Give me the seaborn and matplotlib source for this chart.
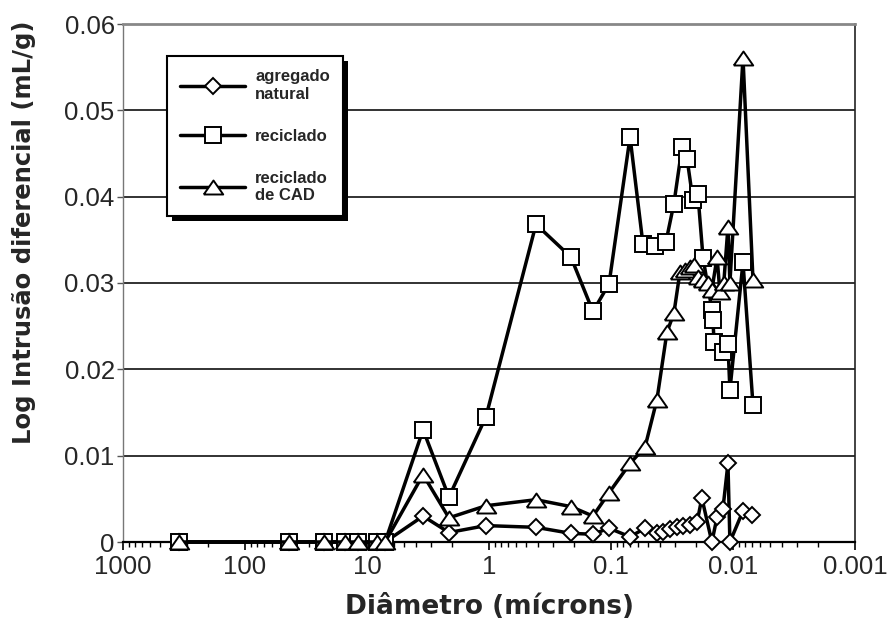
import matplotlib
matplotlib.use("Agg")
import matplotlib.pyplot as plt
from matplotlib.ticker import FixedLocator, FixedFormatter, LogLocator, NullFormatter
from matplotlib.patches import Rectangle
from matplotlib.transforms import IdentityTransform
import seaborn as sns

# Pore diameter (microns) and log differential intrusion (mL/g) for each aggregate
natural_diam = [347.6, 43.5, 22.5, 15.1, 11.9, 8.28, 7.11,
                3.47, 2.13, 1.06, 0.412, 0.213, 0.1406, 0.1038, 0.0698, 0.0526,
                0.0420, 0.0375, 0.0328, 0.0288, 0.0257, 0.0225, 0.0197, 0.0180,
                0.0149, 0.0135, 0.0121, 0.0110, 0.0106, 0.00828, 0.00699]
natural_val = [0.0, 0.0, 0.0, 0.0, 0.0, 0.0, 0.0,
               0.0030, 0.0011, 0.0019, 0.0017, 0.0010, 0.0009, 0.0016, 0.0006, 0.0016,
               0.0010, 0.0012, 0.0015, 0.0017, 0.0019, 0.0020, 0.0023, 0.0051,
               0.0000, 0.0029, 0.0038, 0.0091, 0.0000, 0.0036, 0.0031]

recycled_diam = [347.6, 43.5, 22.5, 15.1, 11.9, 8.28, 7.11,
                 3.47, 2.13, 1.06, 0.412, 0.213, 0.1406, 0.1038, 0.0698, 0.0547,
                 0.0436, 0.0354, 0.0305, 0.0262, 0.0238, 0.0213, 0.0194, 0.0176,
                 0.0149, 0.0146, 0.0143, 0.0121, 0.0110, 0.0106, 0.00828, 0.00686]
recycled_val = [0.0, 0.0, 0.0, 0.0, 0.0, 0.0, 0.0,
                0.0130, 0.0052, 0.0145, 0.0368, 0.0330, 0.0267, 0.0299, 0.0469, 0.0345,
                0.0343, 0.0348, 0.0392, 0.0457, 0.0444, 0.0396, 0.0403, 0.0329,
                0.0269, 0.0257, 0.0232, 0.0220, 0.0229, 0.0176, 0.0324, 0.0159]

cad_diam = [347.6, 43.5, 22.5, 15.1, 11.9, 8.28, 7.11,
            3.47, 2.13, 1.06, 0.412, 0.213, 0.1406, 0.1038, 0.0698, 0.0526,
            0.0420, 0.0348, 0.0305, 0.0272, 0.0247, 0.0225, 0.0209, 0.0194,
            0.0176, 0.0160, 0.0149, 0.0135, 0.0128, 0.0119, 0.0110, 0.0106,
            0.00828, 0.00686]
cad_val = [0.0, 0.0, 0.0, 0.0, 0.0, 0.0, 0.0,
           0.0078, 0.0028, 0.0042, 0.0049, 0.0041, 0.0030, 0.0057, 0.0091, 0.0110,
           0.0165, 0.0243, 0.0265, 0.0313, 0.0315, 0.0318, 0.0321, 0.0307,
           0.0304, 0.0300, 0.0292, 0.0330, 0.0289, 0.0300, 0.0365, 0.0300,
           0.0561, 0.0304]

series_labels = ["agregado\nnatural", "reciclado", "reciclado\nde CAD"]
x_ticks = [1000, 100, 10, 1, 0.1, 0.01, 0.001]
x_tick_labels = ["1000", "100", "10", "1", "0.1", "0.01", "0.001"]
y_ticks = [0, 0.01, 0.02, 0.03, 0.04, 0.05, 0.06]
y_tick_labels = ["0", "0.01", "0.02", "0.03", "0.04", "0.05", "0.06"]

sns.set_style("white")
plt.rcParams["font.family"] = ["Liberation Sans", "DejaVu Sans"]

fig = plt.figure(figsize=(8.91, 6.22), dpi=100)
ax = fig.add_axes([123 / 891, 1 - 542 / 622, 732 / 891, 518 / 622])

# wide open triangle
tri = [(-1, -0.72), (1, -0.72), (0, 0.72), (-1, -0.72)]

styles = [
    (natural_diam, natural_val, "D", 8.5),
    (recycled_diam, recycled_val, "s", 11),
    (cad_diam, cad_val, tri, 14),
]
for (xd, yd, mk, ms), lab in zip(styles, series_labels):
    sns.lineplot(x=xd, y=yd, ax=ax, estimator=None, sort=False,
                 color="black", linewidth=2.5, marker=mk, markersize=ms,
                 markerfacecolor="white", markeredgecolor="black",
                 markeredgewidth=1.4, clip_on=False, label=lab, zorder=3)

ax.set_xscale("log")
ax.set_xlim(1000, 0.001)
ax.set_ylim(0, 0.06)

ax.xaxis.set_major_locator(FixedLocator(x_ticks))
ax.xaxis.set_major_formatter(FixedFormatter(x_tick_labels))
ax.xaxis.set_minor_locator(LogLocator(base=10, subs=range(2, 10), numticks=20))
ax.xaxis.set_minor_formatter(NullFormatter())
ax.yaxis.set_major_locator(FixedLocator(y_ticks))
ax.yaxis.set_major_formatter(FixedFormatter(y_tick_labels))

ax.yaxis.grid(True, color="#222222", linewidth=1.3)
ax.xaxis.grid(False)
ax.set_axisbelow(True)

for side, col, lw in [("top", "#888888", 2.0), ("right", "#222222", 1.2),
                      ("left", "#777777", 1.0), ("bottom", "black", 1.6)]:
    ax.spines[side].set_visible(True)
    ax.spines[side].set_color(col)
    ax.spines[side].set_linewidth(lw)

ax.tick_params(axis="y", which="major", direction="out", left=True, length=4,
               width=1, color="#555555", labelsize=18.5, pad=2)
ax.tick_params(axis="x", which="major", direction="out", bottom=True, length=6,
               width=1.2, color="black", labelsize=18.5, pad=3)
ax.tick_params(axis="x", which="minor", direction="out", bottom=True, length=3.5,
               width=1, color="black")

ax.set_xlabel("Diâmetro (mícrons)", fontsize=19, fontweight="bold",
              family="DejaVu Sans", labelpad=11)
ax.set_ylabel("Log Intrusão diferencial (mL/g)", fontsize=17.5, fontweight="bold",
              family="DejaVu Sans")
ax.yaxis.set_label_coords(-0.119, 0.598)

handles = ax.get_lines()[:3]
leg = ax.legend(handles, series_labels, loc="upper left",
                bbox_to_anchor=(167 / 891, 1 - 56 / 622), bbox_transform=fig.transFigure,
                borderaxespad=0, frameon=True, fancybox=False, framealpha=1,
                edgecolor="black", facecolor="white", handlelength=3.9,
                handletextpad=0.6, borderpad=0.8, labelspacing=1.62,
                prop={"family": "Liberation Sans", "weight": "bold", "size": 12})
leg.get_frame().set_linewidth(1.5)
leg.set_zorder(6)

# solid drop shadow behind the legend box
fig.canvas.draw()
bb = leg.get_frame().get_window_extent()
shadow = Rectangle((bb.x0 + 5, bb.y0 - 5), bb.width, bb.height,
                   transform=IdentityTransform(), facecolor="black",
                   edgecolor="none", zorder=5.5)
ax.add_artist(shadow)
shadow.set_clip_on(False)

fig.savefig("out.png", dpi=100)
